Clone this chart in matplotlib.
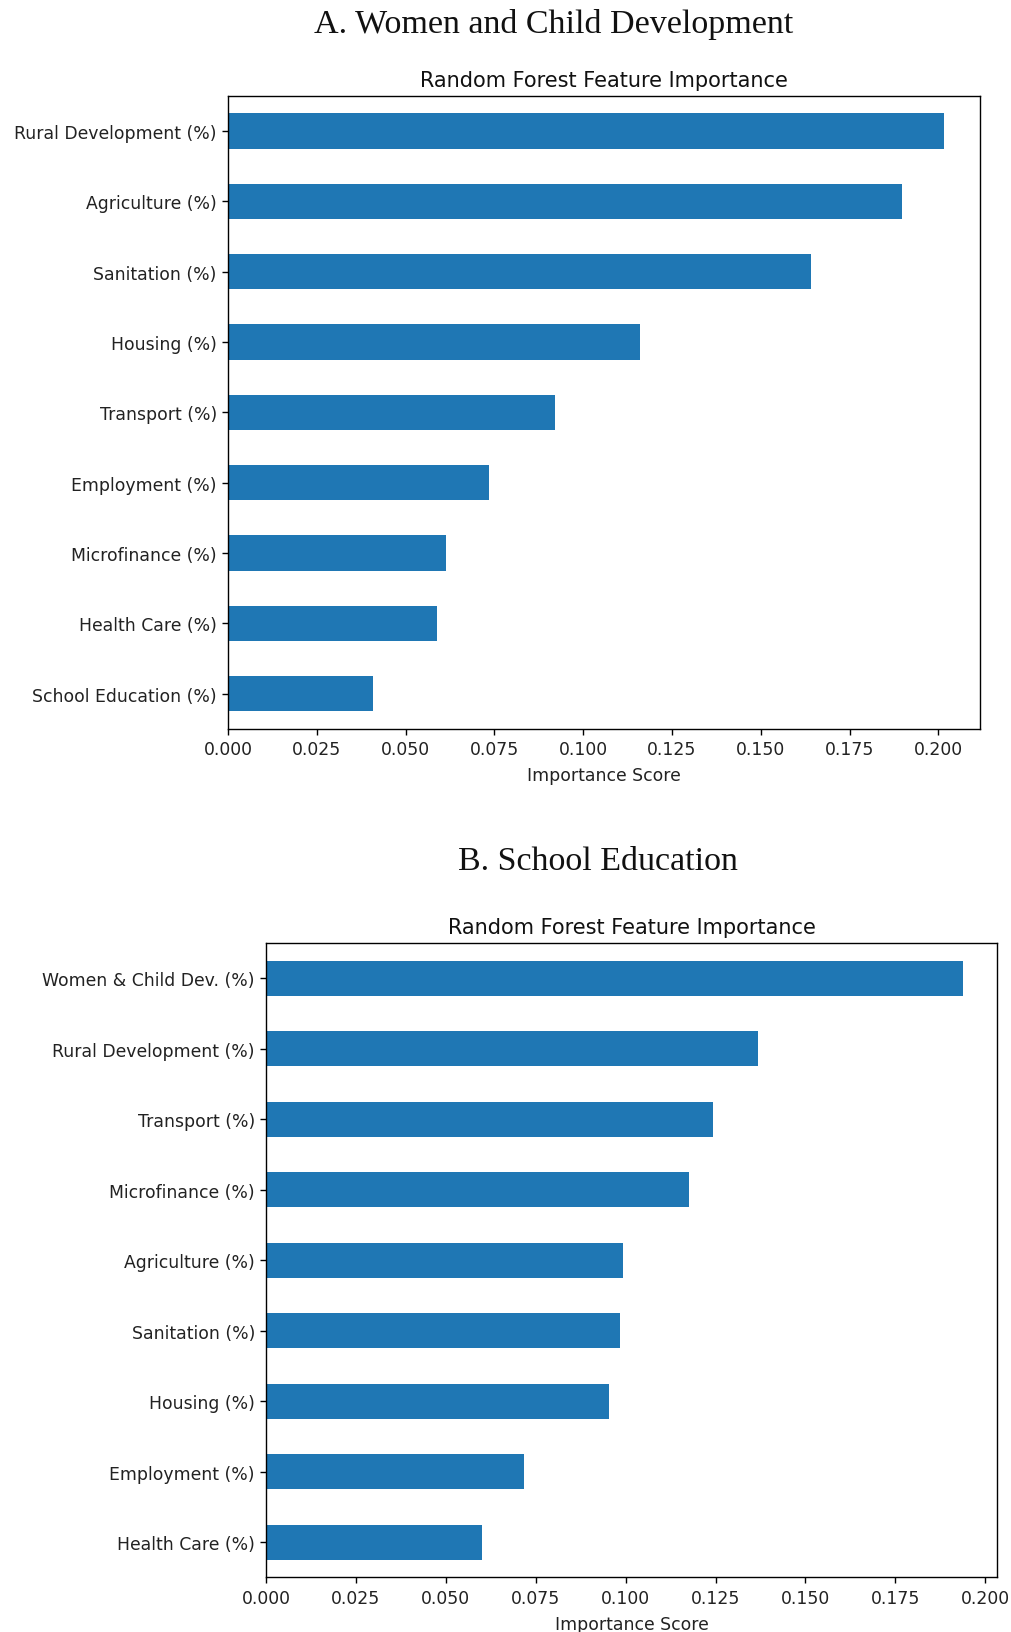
import numpy as np
import matplotlib
matplotlib.use("Agg")
import matplotlib.pyplot as plt

# panel A: women and child development (bottom to top)
feat_a = ["School Education (%)", "Health Care (%)", "Microfinance (%)",
          "Employment (%)", "Transport (%)", "Housing (%)",
          "Sanitation (%)", "Agriculture (%)", "Rural Development (%)"]
imp_a = [0.0408, 0.0587, 0.0613, 0.0736, 0.0921, 0.1161, 0.1642, 0.1897, 0.2016]

# panel B: school education (bottom to top)
feat_b = ["Health Care (%)", "Employment (%)", "Housing (%)", "Sanitation (%)",
          "Agriculture (%)", "Microfinance (%)", "Transport (%)",
          "Rural Development (%)", "Women & Child Dev. (%)"]
imp_b = [0.0601, 0.0717, 0.0955, 0.0984, 0.0993, 0.1175, 0.1242, 0.1367, 0.1937]

xticks = [0.0, 0.025, 0.05, 0.075, 0.1, 0.125, 0.15, 0.175, 0.2]

fig = plt.figure(figsize=(10.11, 16.33), dpi=100)
ax1 = fig.add_axes([0.2255, 0.5530, 0.7438, 0.3877])
ax2 = fig.add_axes([0.2631, 0.0334, 0.7235, 0.3885])

tick_fs = 12.4
for ax, feats, vals in [(ax1, feat_a, imp_a), (ax2, feat_b, imp_b)]:
    y = np.arange(len(feats))
    ax.barh(y, vals, height=0.5, color="#1f77b4")
    ax.set_yticks(y)
    ax.set_yticklabels(feats, fontsize=tick_fs, color="#222222")
    ax.set_xticks(xticks)
    ax.set_xticklabels([f"{t:.3f}" for t in xticks], fontsize=tick_fs, color="#222222")
    ax.set_ylim(-0.5, len(feats) - 0.5)
    ax.set_xlim(0, max(vals) * 1.05)
    ax.set_title("Random Forest Feature Importance", fontsize=15, pad=7, color="#111111")
    ax.set_xlabel("Importance Score", fontsize=tick_fs, labelpad=6, color="#222222")
    ax.tick_params(length=4.5, width=1)
    for s in ax.spines.values():
        s.set_linewidth(1)

fig.text(0.548, 0.985, "A. Women and Child Development", ha="center", va="center",
         family="Liberation Serif", fontsize=24.5, color="#111111")
fig.text(0.591, 0.472, "B. School Education", ha="center", va="center",
         family="Liberation Serif", fontsize=24.5, color="#111111")

fig.savefig("out.png", dpi=100)
